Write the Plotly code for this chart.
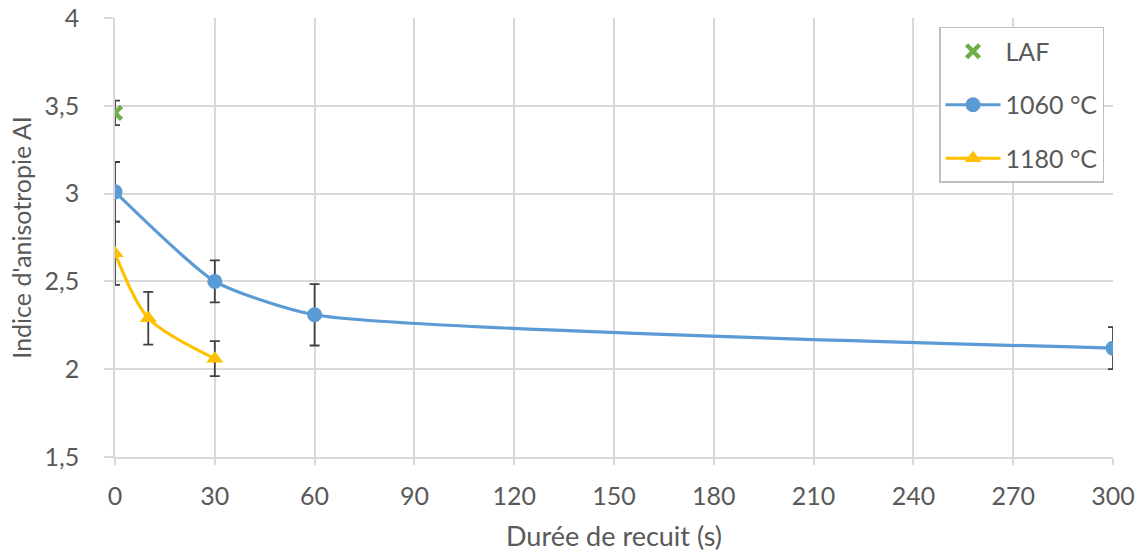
import plotly.graph_objects as go

# Data
laf_x = [0]
laf_y = [3.46]
laf_err = [0.07]

t1060_x = [0, 30, 60, 300]
t1060_y = [3.01, 2.50, 2.31, 2.12]
t1060_err = [0.17, 0.12, 0.175, 0.12]

t1180_x = [0, 10, 30]
t1180_y = [2.66, 2.29, 2.06]
t1180_err = [0.18, 0.15, 0.10]

x_ticks = [0, 30, 60, 90, 120, 150, 180, 210, 240, 270, 300]
y_ticks = [1.5, 2, 2.5, 3, 3.5, 4]

FONT = "Lato"
GRAY_TXT = "#595959"
GRID = "#D9D9D9"
ERR = "#404040"

err_style = dict(type="data", visible=True, color=ERR, thickness=1.8, width=5)

fig = go.Figure()
fig.add_trace(go.Scatter(
    x=laf_x, y=laf_y, mode="markers", name="LAF", legendgroup="a",
    marker=dict(symbol="x-thin", size=13, color="#70AD47", line=dict(width=4.5, color="#70AD47")),
    error_y=dict(array=laf_err, **err_style),
))
fig.add_trace(go.Scatter(
    x=t1060_x, y=t1060_y, mode="lines+markers", name="1060 °C", legendgroup="b",
    line=dict(color="#5B9BD5", width=3.2, shape="spline", smoothing=0.55),
    marker=dict(symbol="circle", size=15, color="#5B9BD5"),
    error_y=dict(array=t1060_err, **err_style),
))
fig.add_trace(go.Scatter(
    x=t1180_x, y=t1180_y, mode="lines+markers", name="1180 °C", legendgroup="c",
    line=dict(color="#FFC000", width=3.2, shape="spline", smoothing=0.8),
    marker=dict(symbol="triangle-up", size=15, color="#FFC000"),
    error_y=dict(array=t1180_err, **err_style),
))

fig.update_layout(
    width=1142, height=556,
    margin=dict(l=115, r=29, t=18, b=99),
    paper_bgcolor="white", plot_bgcolor="white",
    separators=", ",
    font=dict(family=FONT, size=25, color=GRAY_TXT),
    showlegend=True,
    legend=dict(
        x=0.991, y=0.9795, xanchor="right", yanchor="top",
        bgcolor="white", bordercolor="#BFBFBF", borderwidth=1.5,
        font=dict(family=FONT, size=25, color=GRAY_TXT),
        itemwidth=55, tracegroupgap=18, traceorder="grouped",
    ),
)
fig.update_xaxes(
    range=[0, 300], tickvals=x_ticks, showgrid=True, gridcolor=GRID, gridwidth=1.5,
    zeroline=False, showline=True, linecolor=GRID, linewidth=1.5,
    ticks="outside", ticklen=6, tickcolor=GRID, tickwidth=1.5,
    ticklabelstandoff=10, automargin=False, ticklabeloverflow="allow",
    title=dict(text="Durée de recuit (s)", font=dict(size=27, color=GRAY_TXT), standoff=18),
    tickfont=dict(size=25, color=GRAY_TXT),
)
fig.update_yaxes(
    range=[1.5, 4], tickvals=y_ticks, showgrid=True, gridcolor=GRID, gridwidth=1.5,
    zeroline=False, showline=True, linecolor=GRID, linewidth=1.5,
    ticks="outside", ticklen=9, tickcolor=GRID, tickwidth=1.5,
    ticklabelstandoff=20, automargin=False, ticklabeloverflow="allow",
    title=dict(text="Indice d'anisotropie AI", font=dict(size=25, color=GRAY_TXT), standoff=6),
    tickfont=dict(size=25, color=GRAY_TXT),
)

fig.write_html("out.html", config={"displayModeBar": False},
               post_script="document.body.style.margin='0';")
